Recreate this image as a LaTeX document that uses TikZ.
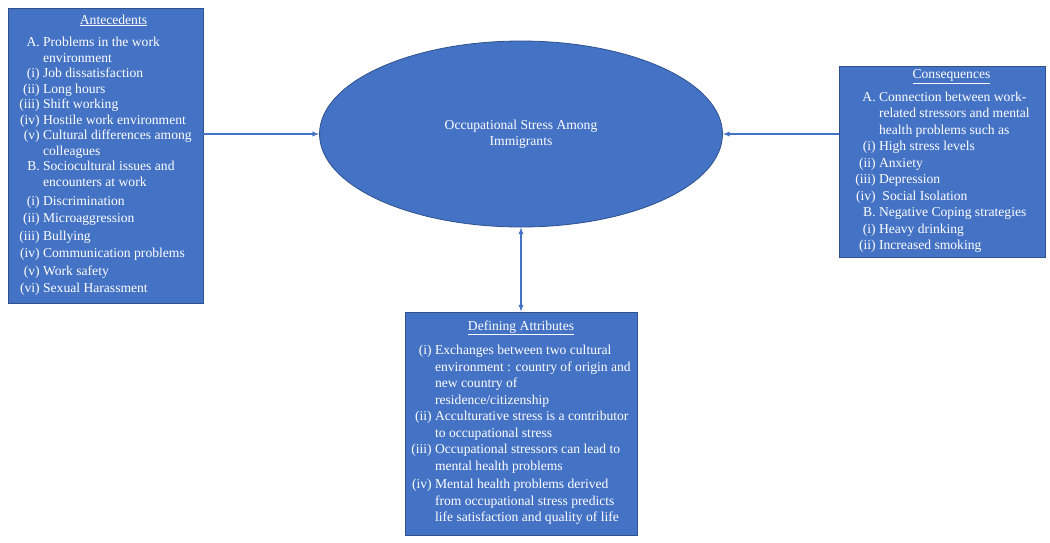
\documentclass[tikz,border=0pt]{standalone}
\usepackage{fontspec}
\setmainfont{Liberation Serif}
\usepackage{xcolor}
\usepackage{tikz}
\usetikzlibrary{shapes.geometric}
\definecolor{boxblue}{HTML}{4472C4}
\definecolor{edgeblue}{HTML}{2F528F}

\begin{document}
\begin{tikzpicture}[x=1pt, y=-1pt,
    infobox/.style={draw=edgeblue, fill=boxblue, line width=0.8pt, text=white, align=center, inner sep=0pt, font=\fontsize{13.6}{16.5}\selectfont},
    link/.style={draw=boxblue, line width=1.3pt}]
    \useasboundingbox (0,0) rectangle (1050,542);

    % centre concept
    \node[infobox, ellipse, minimum width=403pt, minimum height=186pt] (stress) at (521,134) {Occupational Stress Among\\Immigrants};

    % the three boxes
    \node[infobox, font=\fontsize{13.6}{15.5}\selectfont, minimum width=195pt, minimum height=295pt] (antec) at (105.5,156) {\hspace*{16pt}\underline{Antecedents}\\[7.2pt]
      \begin{tabular}[t]{@{}r@{\ }l@{}}
        A. & Problems in the work\\
           & environment\\
        (i) & Job dissatisfaction\\
        (ii) & Long hours\\
        (iii) & Shift working\\
        (iv) & Hostile work environment\\
        (v) & Cultural differences among\\
            & colleagues\\
        B. & Sociocultural issues and\\
           & encounters at work\\[3.5pt]
        (i) & Discrimination\\[2pt]
        (ii) & Microaggression\\[2pt]
        (iii) & Bullying\\[2pt]
        (iv) & Communication problems\\[2pt]
        (v) & Work safety\\[2pt]
        (vi) & Sexual Harassment
      \end{tabular}};
    \node[infobox, minimum width=206pt, minimum height=191pt] (cons) at (942.5,162) {\hspace*{18pt}\underline{Consequences}\\[6pt]
      \begin{tabular}[t]{@{}r@{\ }l@{}}
        A. & Connection between work-\\
           & related stressors and mental\\
           & health problems such as\\
        (i) & High stress levels\\
        (ii) & Anxiety\\
        (iii) & Depression\\
        (iv) & \ Social Isolation\\
        B. & Negative Coping strategies\\
        (i) & Heavy drinking\\
        (ii) & Increased smoking
      \end{tabular}};
    \node[infobox, minimum width=232pt, minimum height=223pt] (defn) at (521,423.5) {\underline{Defining Attributes}\\[8pt]
      \begin{tabular}[t]{@{}r@{\ }l@{}}
        (i) & Exchanges between two cultural\\
            & environment : country of origin and\\
            & new country of\\
            & residence/citizenship\\
        (ii) & Acculturative stress is a contributor\\
             & to occupational stress\\
        (iii) & Occupational stressors can lead to\\
              & mental health problems\\[2pt]
        (iv) & Mental health problems derived\\
             & from occupational stress predicts\\
             & life satisfaction and quality of life
      \end{tabular}};

    % links
    \draw[link, -latex] (antec.east |- stress.west) -- (stress.west);
    \draw[link, -latex] (cons.west |- stress.east) -- (stress.east);
    \draw[link, latex-latex] (stress.south) -- (defn.north);
\end{tikzpicture}
\end{document}
